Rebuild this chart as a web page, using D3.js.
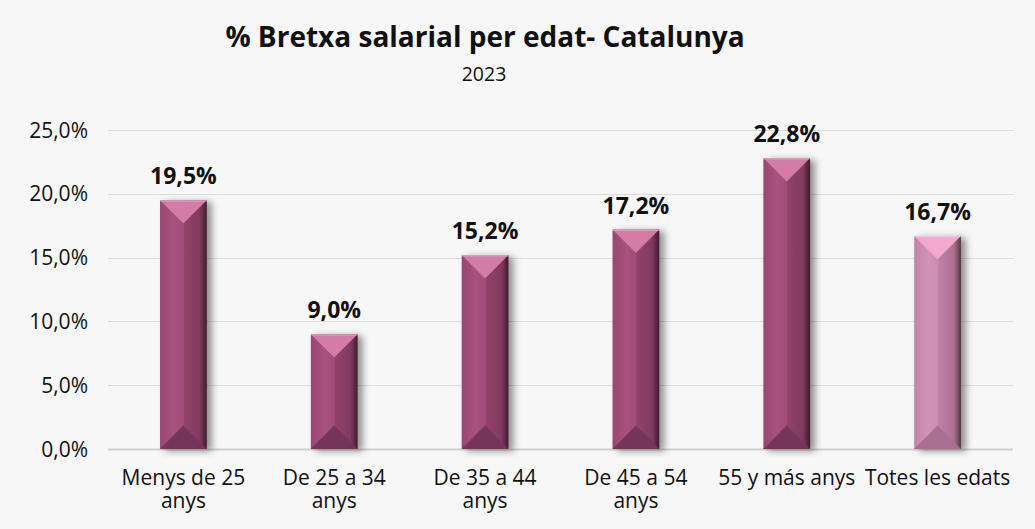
<!DOCTYPE html>
<html>
<head>
<meta charset="utf-8">
<script src="https://cdn.jsdelivr.net/npm/d3@7"></script>
<style>
  html, body { margin: 0; padding: 0; background: #f7f7f7; }
  svg { display: block; }
  text { font-family: "Open Sans", "Noto Sans", sans-serif; fill: #111; }
</style>
</head>
<body>
<svg id="chart" width="1035" height="529"></svg>
<script>
// Wage gap by age group, Catalonia 2023
const categories = ["Menys de 25|anys", "De 25 a 34|anys", "De 35 a 44|anys", "De 45 a 54|anys", "55 y más anys", "Totes les edats"];
const values = [19.5, 9.0, 15.2, 17.2, 22.8, 16.7];
const yTicks = [0, 5, 10, 15, 20, 25];
const titleText = "% Bretxa salarial per edat- Catalunya";
const subtitleText = "2023";

const W = 1035, H = 529;
const margin = { left: 108, right: 22, top: 130, bottom: 80 };
const svg = d3.select("#chart");

const x = d3.scaleBand()
  .domain(categories)
  .range([margin.left, W - margin.right])
  .paddingInner(0.69)
  .paddingOuter(0.345);

const y = d3.scaleLinear()
  .domain([0, 25])
  .range([449, 130]);

const fmt = v => d3.format(".1f")(v).replace(".", ",") + "%";

// background
svg.append("rect").attr("width", W).attr("height", H).attr("fill", "#f7f7f7");

const defs = svg.append("defs");
const shadow = defs.append("filter").attr("id", "barShadow")
  .attr("x", "-30%").attr("y", "-10%").attr("width", "180%").attr("height", "130%");
shadow.append("feDropShadow")
  .attr("dx", 5).attr("dy", 2).attr("stdDeviation", 3.5)
  .attr("flood-color", "#000").attr("flood-opacity", 0.42);

// palettes: regular bars and the lighter "total" bar
const palettes = [
  { id: "dark", body: ["#9a4670", "#a8527f", "#a04d79", "#934369", "#80395e", "#3e1b2d"], top: "#d27ba6", bottom: "#74345a" },
  { id: "light", body: ["#c384a8", "#d193b8", "#cb8cb2", "#bf81a5", "#ab7191", "#5a3647"], top: "#f3a9cd", bottom: "#a86f8e" }
];
palettes.forEach(p => {
  const g = defs.append("linearGradient").attr("id", "body-" + p.id)
    .attr("x1", 0).attr("x2", 1).attr("y1", 0).attr("y2", 0);
  const stops = [0, 0.3, 0.5, 0.52, 0.85, 1];
  stops.forEach((s, i) => g.append("stop").attr("offset", s).attr("stop-color", p.body[i]));
});

// grid lines
const grid = svg.append("g");
grid.selectAll("line").data(yTicks).join("line")
  .attr("x1", margin.left).attr("x2", W - margin.right)
  .attr("y1", d => Math.round(y(d)) + 0.5).attr("y2", d => Math.round(y(d)) + 0.5)
  .attr("stroke", d => d === 0 ? "#cfcfcf" : "#dcdcdc")
  .attr("stroke-width", d => d === 0 ? 2 : 1);

// y axis labels
svg.append("g").selectAll("text").data(yTicks).join("text")
  .attr("x", 88).attr("y", d => y(d))
  .attr("dy", "0.36em")
  .attr("text-anchor", "end")
  .attr("font-size", 21)
  .text(d => fmt(d));

// bars with bevelled faces
const bars = svg.append("g").selectAll("g").data(values).join("g")
  .attr("filter", "url(#barShadow)");
bars.each(function (v, i) {
  const g = d3.select(this);
  const p = i === values.length - 1 ? palettes[1] : palettes[0];
  const x0 = x(categories[i]), bw = x.bandwidth(), x1 = x0 + bw, cx = x0 + bw / 2;
  const yt = y(v), yb = y(0);
  const b = bw / 2;
  g.append("rect").attr("x", x0).attr("y", yt).attr("width", bw).attr("height", yb - yt)
    .attr("fill", `url(#body-${p.id})`);
  g.append("path")
    .attr("d", `M${x0},${yt}L${x1},${yt}L${cx},${yt + b}Z`)
    .attr("fill", p.top);
  g.append("path")
    .attr("d", `M${x0},${yb}L${x1},${yb}L${cx},${yb - b}Z`)
    .attr("fill", p.bottom);
  // thin highlight along the top edge
  g.append("rect").attr("x", x0).attr("y", yt).attr("width", bw).attr("height", 1.5)
    .attr("fill", "#ffffff").attr("opacity", 0.25);
});

// value labels
svg.append("g").selectAll("text").data(values).join("text")
  .attr("x", (d, i) => x(categories[i]) + x.bandwidth() / 2)
  .attr("y", d => y(d) - 16)
  .attr("text-anchor", "middle")
  .attr("font-size", 23)
  .attr("font-weight", 700)
  .text(d => fmt(d));

// category labels (split on "|")
const xl = svg.append("g").selectAll("text").data(categories).join("text")
  .attr("x", d => x(d) + x.bandwidth() / 2)
  .attr("y", 485)
  .attr("text-anchor", "middle")
  .attr("font-size", 21);
xl.selectAll("tspan").data(d => d.split("|")).join("tspan")
  .attr("x", function () { return d3.select(this.parentNode).attr("x"); })
  .attr("dy", (d, j) => j === 0 ? 0 : 23)
  .text(d => d);

// title
svg.append("text")
  .attr("x", 485).attr("y", 47)
  .attr("text-anchor", "middle")
  .attr("font-size", 28)
  .attr("font-weight", 700)
  .text(titleText);
svg.append("text")
  .attr("x", 484).attr("y", 81)
  .attr("text-anchor", "middle")
  .attr("font-size", 19.5)
  .text(subtitleText);
</script>
</body>
</html>
